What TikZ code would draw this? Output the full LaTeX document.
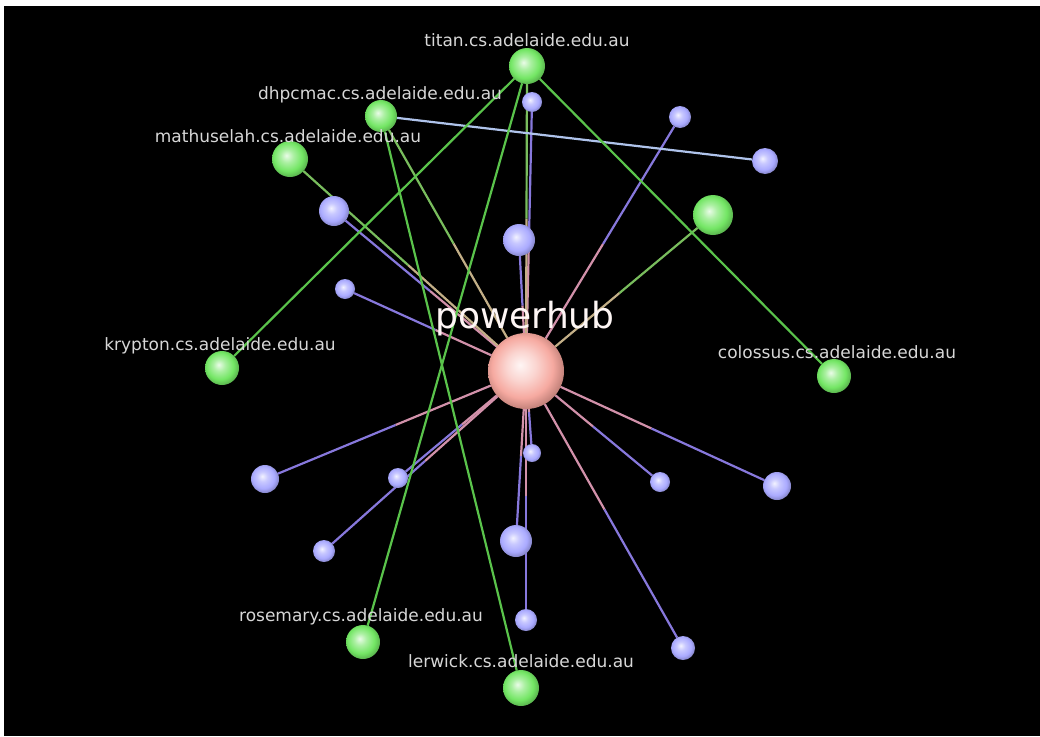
\documentclass[tikz,border=0pt]{standalone}
\usepackage{fontspec}
\setmainfont{DejaVu Sans}
\usetikzlibrary{calc}

\definecolor{hostgreen}{RGB}{115,230,100}
\definecolor{leafblue}{RGB}{170,170,255}
\definecolor{hubpink}{RGB}{245,160,150}
\definecolor{linkgreen}{RGB}{90,195,75}
\definecolor{linkpink}{RGB}{210,145,170}
\definecolor{linkblue}{RGB}{135,120,220}
\definecolor{linktan}{RGB}{195,175,135}
\definecolor{linkpale}{RGB}{175,195,235}
\definecolor{labelgrey}{RGB}{215,215,215}

% softer balls than the built-in ball shading
\pgfdeclareradialshading{greenball}{\pgfqpoint{-5bp}{5bp}}{color(0bp)=(hostgreen!15!white); color(9bp)=(hostgreen!60!white); color(20bp)=(hostgreen); color(30bp)=(hostgreen!70!black); color(50bp)=(black)}
\pgfdeclareradialshading{blueball}{\pgfqpoint{-5bp}{5bp}}{color(0bp)=(leafblue!15!white); color(9bp)=(leafblue!65!white); color(20bp)=(leafblue); color(30bp)=(leafblue!70!black); color(50bp)=(black)}
\pgfdeclareradialshading{hubball}{\pgfqpoint{-4bp}{4bp}}{color(0bp)=(hubpink!10!white); color(10bp)=(hubpink!45!white); color(20bp)=(hubpink!90!white); color(30bp)=(hubpink!70!black); color(50bp)=(black)}

\pgfdeclarelayer{back}
\pgfdeclarelayer{links}
\pgfsetlayers{back,links,main}

\begin{document}
\begin{tikzpicture}[x=1pt,y=-1pt,
    ball/.style={circle,inner sep=0pt,outer sep=0pt},
    host/.style={ball,shading=greenball},
    leaf/.style={ball,shading=blueball},
    hostname/.style={text=labelgrey,inner sep=0pt,font=\fontsize{17}{20}\selectfont},
    link/.style={line width=2.2pt}]
  \begin{pgfonlayer}{back}
    \fill[white] (0,0) rectangle (1040,736);
    \fill[black] (4,6) rectangle (1040,736);
  \end{pgfonlayer}

  % hub and hosts
  \node[ball,shading=hubball,minimum size=76pt] (hub) at (526,371) {};
  \node[host,minimum size=36pt] (titan) at (527,66) {};
  \node[host,minimum size=32pt] (dhpcmac) at (381,116) {};
  \node[host,minimum size=36pt] (mathuselah) at (290,159) {};
  \node[host,minimum size=34pt] (krypton) at (222,368) {};
  \node[host,minimum size=34pt] (colossus) at (834,376) {};
  \node[host,minimum size=40pt] (spare) at (713,215) {};
  \node[host,minimum size=34pt] (rosemary) at (363,642) {};
  \node[host,minimum size=36pt] (lerwick) at (521,688) {};

  % leaves
  \foreach \n/\x/\y/\d in {pc1/532/102/20, pc2/680/117/22, pc3/765/161/26,
      pc4/334/211/30, pc5/519/240/32, pc6/345/289/20, pc7/265/479/28,
      pc8/398/478/20, pc9/532/453/18, pc10/660/482/20, pc11/777/486/28,
      pc12/324/551/22, pc13/516/541/32, pc14/526/620/22, pc15/683/648/24}
    \node[leaf,minimum size=\d pt] (\n) at (\x,\y) {};

  \begin{pgfonlayer}{links}
    \foreach \n in {pc1,pc2,pc4,pc5,pc6,pc7,pc8,pc9,pc10,pc11,pc12,pc13,pc14,pc15} {
      \draw[link,linkpink] (hub) -- ($(hub)!.5!(\n)$);
      \draw[link,linkblue] ($(hub)!.5!(\n)$) -- (\n);
    }
    \foreach \n in {titan,dhpcmac,mathuselah,spare} {
      \draw[link,linktan] (hub) -- ($(hub)!.5!(\n)$);
      \draw[link,linkgreen!70!linktan] ($(hub)!.5!(\n)$) -- (\n);
    }
    \draw[link,linkpale] (dhpcmac) -- (pc3);
    \draw[link,linkgreen] (titan) -- (krypton);
    \draw[link,linkgreen] (titan) -- (rosemary);
    \draw[link,linkgreen] (titan) -- (colossus);
    \draw[link,linkgreen] (dhpcmac) -- (lerwick);
  \end{pgfonlayer}

  % labels
  \node[hostname,font=\fontsize{36}{40}\selectfont,text=white!90!hubpink] (hublbl) at (525,319) {powerhub};
  \node[hostname] (titanlbl) at (527,40) {titan.cs.adelaide.edu.au};
  \node[hostname] (dhpcmaclbl) at (380,95) {dhpcmac.cs.adelaide.edu.au};
  \node[hostname] (mathuselahlbl) at (288,136) {mathuselah.cs.adelaide.edu.au};
  \node[hostname] (kryptonlbl) at (220,346) {krypton.cs.adelaide.edu.au};
  \node[hostname] (colossuslbl) at (837,352) {colossus.cs.adelaide.edu.au};
  \node[hostname] (rosemarylbl) at (361,617) {rosemary.cs.adelaide.edu.au};
  \node[hostname] (lerwicklbl) at (521,661) {lerwick.cs.adelaide.edu.au};
\end{tikzpicture}
\end{document}
